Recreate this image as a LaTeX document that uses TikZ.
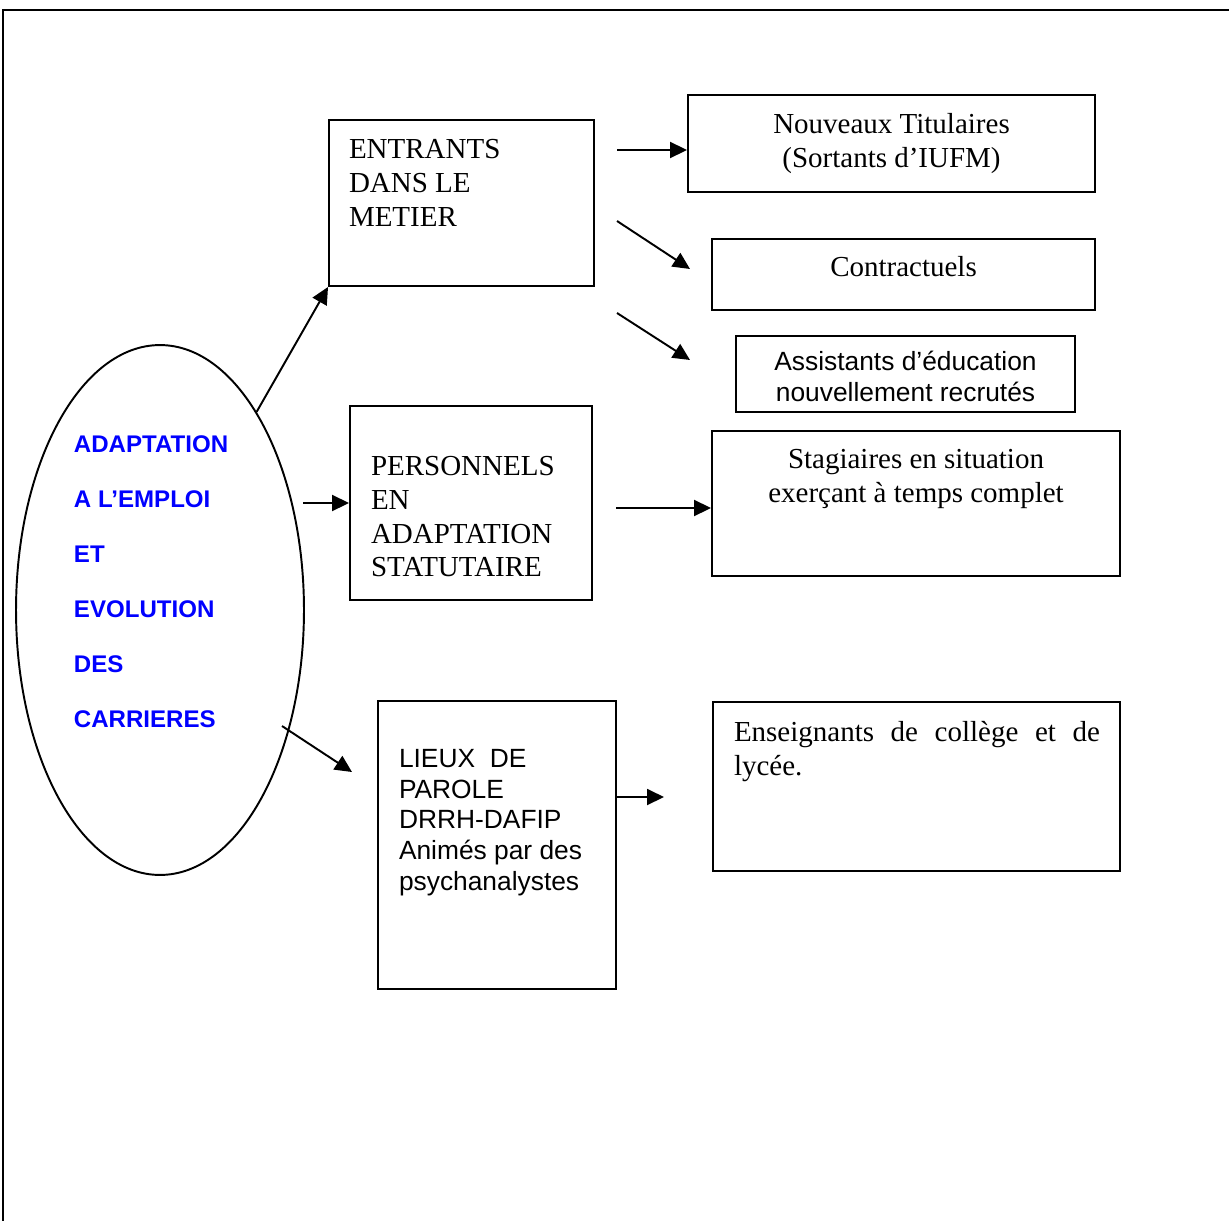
\documentclass[tikz,border=0pt]{standalone}
\usepackage{fontspec}
\setmainfont{Liberation Serif}
\setsansfont{Liberation Sans}
\usetikzlibrary{arrows.meta, positioning, calc, fit, shapes.geometric}
\definecolor{themeblue}{HTML}{0000FF}

\begin{document}
\begin{tikzpicture}[x=0.02cm, y=-0.02cm, line width=1.1pt,
  >={Triangle[length=0.34cm, width=0.32cm]},
  box/.style={draw, inner sep=0pt},
  serif/.style={font=\fontsize{16.5}{19.3}\selectfont, inner sep=0pt},
  sans/.style={font=\sffamily\fontsize{15}{17.6}\selectfont, inner sep=0pt},
  theme/.style={font=\sffamily\bfseries\fontsize{13.7}{31.3}\selectfont, text=themeblue, inner sep=0pt}]

% Page and frame
\useasboundingbox (0,0) rectangle (1229,1220);
\fill[white] (0,0) rectangle (1229,1220);
\draw[line width=1.3pt] (3,1230) -- (3,10) -- (1240,10);

% Ellipse
\node[draw, ellipse, minimum width=5.76cm, minimum height=10.6cm, inner sep=0pt] (adapt) at (160,610) {};
\node[theme, anchor=north west, align=left] (adapt-txt) at (73,435)
  {ADAPTATION\\A L’EMPLOI\\ET\\EVOLUTION\\DES\\CARRIERES};

% Boxes, middle column
\node[box, fit={(329,120) (594,286)}] (entrants) {};
\node[serif, anchor=north west, align=left] (entrants-txt) at ($(entrants.north west)+(20,19)$)
  {ENTRANTS\\DANS LE\\METIER};

\node[box, fit={(350,406) (592,600)}] (perso) {};
\node[serif, anchor=north west, align=left] (perso-txt) at ($(perso.north west)+(21,50)$)
  {PERSONNELS\\EN\\ADAPTATION\\STATUTAIRE};

\node[box, fit={(378,701) (616,989)}] (lieux) {};
\node[sans, anchor=north west, align=left] (lieux-txt) at ($(lieux.north west)+(21,48)$)
  {LIEUX~ DE\\PAROLE\\DRRH-DAFIP\\Animés par des\\psychanalystes};

% Boxes, right column
\node[box, fit={(688,95) (1095,192)}] (titul) {};
\node[serif, anchor=north, align=center] (titul-txt) at ($(titul.north)+(0,18)$)
  {Nouveaux Titulaires\\(Sortants d’IUFM)};

\node[box, fit={(712,239) (1095,310)}] (contract) {};
\node[serif, anchor=north] (contract-txt) at ($(contract.north)+(0,17)$) {Contractuels};

\node[box, fit={(736,336) (1075,412)}] (assist) {};
\node[sans, anchor=north, align=center] (assist-txt) at ($(assist.north)+(0,15)$)
  {Assistants d’éducation\\nouvellement recrutés};

\node[box, fit={(712,431) (1120,576)}] (stag) {};
\node[serif, anchor=north, align=center] (stag-txt) at ($(stag.north)+(0,18)$)
  {Stagiaires en situation\\exerçant à temps complet};

\node[box, fit={(713,702) (1120,871)}] (ensei) {};
\node[serif, anchor=north west, text width=7.32cm, align=justify] (ensei-txt) at ($(ensei.north west)+(21,19)$)
  {Enseignants de collège et de\linebreak lycée.};

% Arrows
\coordinate (a1) at (617,150);
\coordinate (a2) at (617,221);
\coordinate (a2h) at (690,269);
\coordinate (a3) at (617,313);
\coordinate (a3h) at (690,360);
\coordinate (a5) at (303,503);
\coordinate (a6) at (616,508);
\coordinate (a7) at (282,726);
\coordinate (a7h) at (352,772);
\coordinate (a8) at (lieux.east |- 0,797);
\coordinate (a8h) at (664,797);

\draw[->] (adapt.64.6) -- (entrants.south west);
\draw[->] (a5) -- (perso.west);
\draw[->] (a7) -- (a7h);
\draw[->] (a1) -- (a1 -| titul.west);
\draw[->] (a2) -- (a2h);
\draw[->] (a3) -- (a3h);
\draw[->] (a6) -- (a6 -| stag.west);
\draw[->] (a8) -- (a8h);

\end{tikzpicture}
\end{document}
